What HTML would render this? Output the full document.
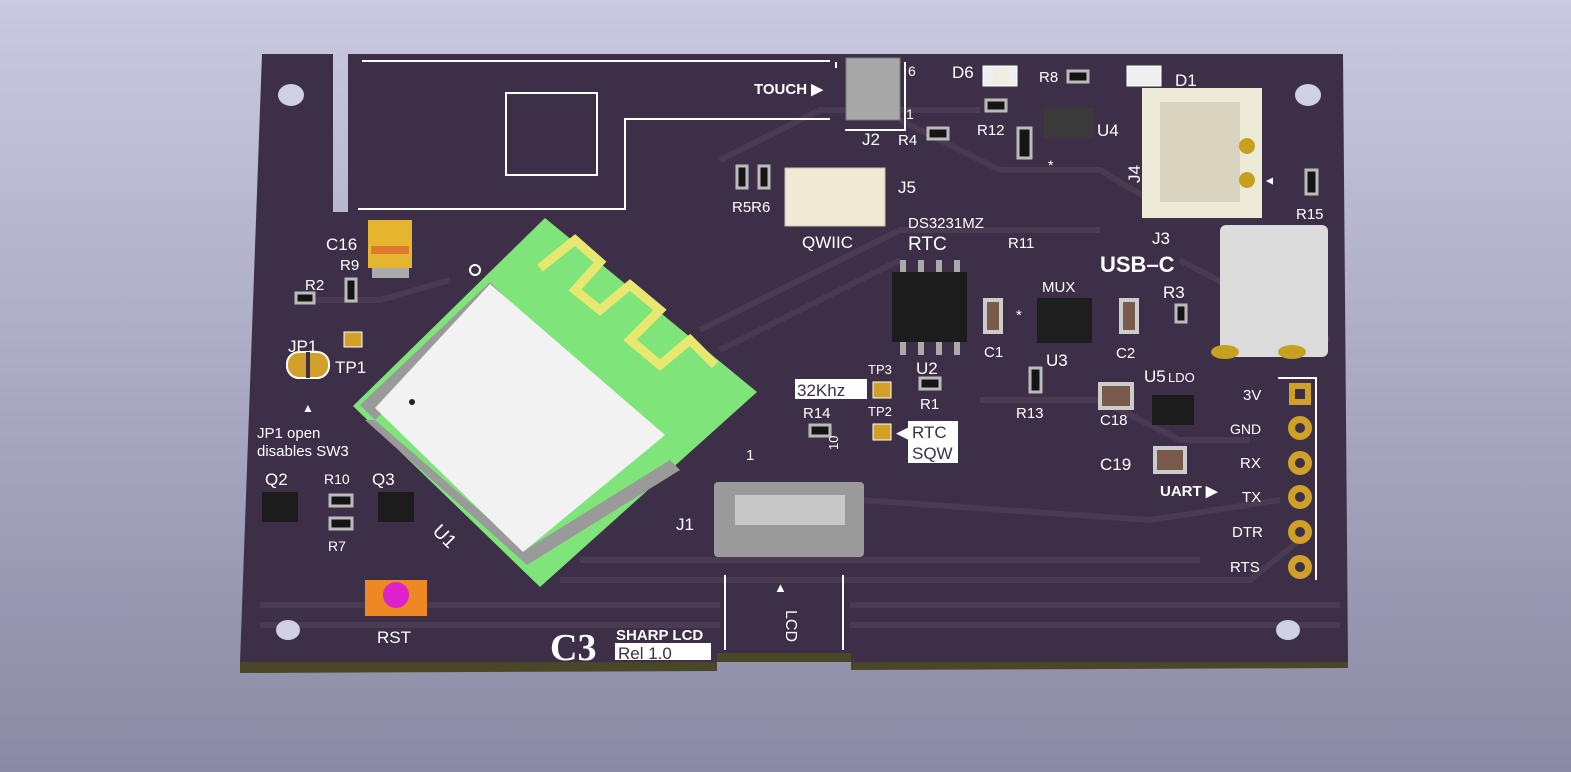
<!DOCTYPE html>
<html><head><meta charset="utf-8"><style>
html,body{margin:0;padding:0;width:1571px;height:772px;overflow:hidden}
svg{display:block}
text{font-family:"Liberation Sans",sans-serif;fill:#fff}
</style></head><body>
<svg width="1571" height="772" viewBox="0 0 1571 772" xmlns="http://www.w3.org/2000/svg">
<defs>
<linearGradient id="bg" x1="0" y1="0" x2="0" y2="1">
<stop offset="0" stop-color="#c9c9e0"/><stop offset="1" stop-color="#8a8aa4"/></linearGradient>
</defs>
<rect width="1571" height="772" fill="url(#bg)"/>
<!-- board edge thickness -->
<polygon points="240,662 717,662 717,671 240,673" fill="#4a4628"/>
<polygon points="851,662 1348,662 1348,668 851,670" fill="#4a4628"/>
<polygon points="717,653 851,653 851,662 717,662" fill="#4a4628"/>
<!-- board -->
<path d="M262,54 L333,54 L333,212 L348,212 L348,54 L1343,54 L1348,662 L851,662 L851,653 L717,653 L717,662 L240,662 Z" fill="#3d2f48"/>
<!-- traces -->
<g stroke="#4a3a52" stroke-width="6" fill="none">
<path d="M300,300 L380,300 L450,280"/><path d="M560,580 L1250,580 L1300,540"/>
<path d="M580,560 L1200,560"/><path d="M700,330 L900,230 L1100,230"/>
<path d="M720,350 L900,260"/><path d="M900,120 L1000,170 L1100,170 L1150,200"/>
<path d="M980,400 L1100,400 L1180,440 L1250,440"/><path d="M860,500 L1150,520 L1280,500"/>
<path d="M720,160 L820,110 L980,110"/><path d="M1180,260 L1330,340"/>
<path d="M260,605 L720,605 M850,605 L1340,605"/><path d="M260,625 L720,625 M850,625 L1340,625"/>
</g>
<!-- holes -->
<g fill="#d0d0e4"><ellipse cx="291" cy="95" rx="13" ry="11"/><ellipse cx="1308" cy="95" rx="13" ry="11"/>
<ellipse cx="288" cy="630" rx="12" ry="10"/><ellipse cx="1288" cy="630" rx="12" ry="10"/></g>
<!-- antenna keepout silkscreen -->
<g stroke="#fff" stroke-width="2" fill="none">
<path d="M362,61 L830,61"/><path d="M358,209 L625,209 L625,119 L830,119"/>
<rect x="506" y="93" width="91" height="82"/>
<path d="M836,68 L836,62 M905,62 L905,130 L845,130"/>
<path d="M725,575 L725,650 M843,575 L843,650"/>
<path d="M1278,378 L1316,378 L1316,580"/>
</g>
<!-- ESP module -->
<polygon points="545,218 757,392 540,587 353,406" fill="#7fe57a"/>
<g stroke="#e8e870" stroke-width="9" fill="none"><path d="M540,268 L575,240 L600,262 L575,290 L600,310 L630,285 L660,310 L630,340 L660,365 L690,340 L715,365"/></g>
<g fill="#9a9a9a">
<path d="M360,405 L490,282 L505,297 L375,420 Z"/>
<path d="M375,420 L525,550 L670,460 L680,470 L527,565 L365,420 Z"/>
</g>
<polygon points="490,284 665,435 523,552 375,408" fill="#f2f2f2"/>
<circle cx="412" cy="402" r="3" fill="#222"/>
<text x="440" y="548" font-size="19" transform="rotate(45 455 530)">U1</text>
<circle cx="475" cy="270" r="5" stroke="#fff" stroke-width="2" fill="none"/>
<!-- C16 cap -->
<rect x="368" y="220" width="44" height="48" fill="#e6b52f"/><rect x="371" y="246" width="38" height="8" fill="#e07830"/>
<rect x="372" y="268" width="37" height="10" fill="#aaa"/>
<!-- small resistors -->
<g fill="#151515" stroke="#bbb" stroke-width="3">
<rect x="296" y="293" width="18" height="10"/><rect x="346" y="279" width="10" height="22"/>
<rect x="737" y="166" width="10" height="22"/><rect x="759" y="166" width="10" height="22"/>
<rect x="928" y="128" width="20" height="11"/><rect x="986" y="100" width="20" height="11"/>
<rect x="1068" y="71" width="20" height="11"/><rect x="1018" y="128" width="13" height="30"/>
<rect x="1306" y="170" width="11" height="24"/><rect x="1176" y="305" width="10" height="17"/>
<rect x="920" y="378" width="20" height="11"/><rect x="810" y="425" width="20" height="11"/>
<rect x="1030" y="368" width="11" height="24"/>
<rect x="330" y="495" width="22" height="11"/><rect x="330" y="518" width="22" height="11"/>
</g>
<!-- LEDs -->
<rect x="983" y="66" width="34" height="20" fill="#eee" stroke="#fff"/><rect x="993" y="68" width="16" height="16" fill="#f2ece0"/>
<rect x="1127" y="66" width="34" height="20" fill="#eee" stroke="#fff"/>
<!-- ceramic caps -->
<g fill="#7a5a4a" stroke="#ccc" stroke-width="4">
<rect x="985" y="300" width="16" height="32"/><rect x="1121" y="300" width="16" height="32"/>
<rect x="1100" y="384" width="32" height="24"/><rect x="1155" y="448" width="30" height="24"/>
</g>
<!-- ICs -->
<g fill="#aaa"><rect x="900" y="260" width="6" height="95"/><rect x="918" y="260" width="6" height="95"/><rect x="936" y="260" width="6" height="95"/><rect x="954" y="260" width="6" height="95"/></g>
<rect x="892" y="272" width="75" height="70" fill="#1c1c1c"/>
<rect x="1037" y="298" width="55" height="45" fill="#1e1e1e"/>
<rect x="1044" y="108" width="50" height="30" fill="#3a3a3a"/>
<rect x="1152" y="395" width="42" height="30" fill="#1c1c1c"/>
<rect x="262" y="492" width="36" height="30" fill="#1c1c1c"/><rect x="378" y="492" width="36" height="30" fill="#1c1c1c"/>
<!-- J2 -->
<rect x="846" y="58" width="54" height="62" fill="#a8a8a8" stroke="#777"/>
<!-- J5 -->
<rect x="785" y="168" width="100" height="58" fill="#f0ead4" stroke="#c8c2aa"/>
<!-- J4 -->
<rect x="1142" y="88" width="120" height="130" fill="#eeead8"/>
<rect x="1160" y="102" width="80" height="100" fill="#d8d4c0"/>
<circle cx="1247" cy="146" r="8" fill="#c8a020"/><circle cx="1247" cy="180" r="8" fill="#c8a020"/>
<!-- USB-C -->
<rect x="1220" y="225" width="108" height="132" rx="6" fill="#dcdcdc"/>
<ellipse cx="1225" cy="352" rx="14" ry="7" fill="#c8a020"/><ellipse cx="1292" cy="352" rx="14" ry="7" fill="#c8a020"/>
<!-- FPC J1 -->
<rect x="714" y="482" width="150" height="75" rx="4" fill="#9a9a9a"/><rect x="735" y="495" width="110" height="30" fill="#c8c8c8"/>
<!-- header pads -->
<g fill="#d0a028"><rect x="1289" y="383" width="22" height="22"/>
<circle cx="1300" cy="428" r="12"/><circle cx="1300" cy="463" r="12"/><circle cx="1300" cy="497" r="12"/><circle cx="1300" cy="532" r="12"/><circle cx="1300" cy="567" r="12"/></g>
<g fill="#3d2f48"><rect x="1295" y="389" width="10" height="10"/><circle cx="1300" cy="428" r="5"/><circle cx="1300" cy="463" r="5"/><circle cx="1300" cy="497" r="5"/><circle cx="1300" cy="532" r="5"/><circle cx="1300" cy="567" r="5"/></g>
<!-- JP1, TP -->
<rect x="287" y="352" width="42" height="26" rx="12" fill="#d0a028" stroke="#fff" stroke-width="2"/><rect x="306" y="352" width="4" height="26" fill="#3d2f48"/>
<rect x="344" y="332" width="18" height="15" fill="#d0a028" stroke="#fff"/>
<rect x="873" y="382" width="18" height="16" fill="#d0a028" stroke="#fff"/><rect x="873" y="424" width="18" height="16" fill="#d0a028" stroke="#fff"/>
<!-- RST button -->
<rect x="365" y="580" width="62" height="36" fill="#ee8822"/><circle cx="396" cy="595" r="13" fill="#dd22cc"/>
<!-- labels -->
<g font-size="17">
<text x="326" y="250">C16</text><text x="340" y="270" font-size="15">R9</text><text x="305" y="290" font-size="15">R2</text>
<text x="288" y="352">JP1</text><text x="335" y="373">TP1</text>
<text x="257" y="438" font-size="15">JP1 open</text><text x="257" y="456" font-size="15">disables SW3</text>
<text x="265" y="485">Q2</text><text x="324" y="484" font-size="14">R10</text><text x="372" y="485">Q3</text><text x="328" y="551" font-size="14">R7</text>
<text x="377" y="643">RST</text>
<text x="754" y="94" font-size="15" font-weight="bold">TOUCH ▶</text>
<text x="908" y="76" font-size="14">6</text><text x="906" y="119" font-size="14">1</text>
<text x="862" y="145">J2</text><text x="898" y="145" font-size="15">R4</text>
<text x="952" y="78">D6</text><text x="1039" y="82" font-size="15">R8</text><text x="1175" y="86">D1</text>
<text x="977" y="135" font-size="15">R12</text><text x="1097" y="136">U4</text><text x="1048" y="170" font-size="14">*</text>
<text x="732" y="212" font-size="15">R5R6</text><text x="898" y="193">J5</text>
<text x="802" y="248">QWIIC</text>
<text x="908" y="228" font-size="15">DS3231MZ</text><text x="908" y="250" font-size="19">RTC</text><text x="1008" y="248" font-size="15">R11</text>
<text x="1042" y="292" font-size="15">MUX</text><text x="1016" y="320" font-size="15">*</text>
<text x="984" y="357" font-size="15">C1</text><text x="1046" y="366">U3</text><text x="1116" y="358" font-size="15">C2</text>
<text x="1152" y="244">J3</text><text x="1100" y="272" font-size="22" font-weight="bold">USB–C</text>
<text x="1163" y="298">R3</text><text x="1296" y="219" font-size="15">R15</text>
<text x="1125" y="182" transform="rotate(-90 1133 175)">J4</text>
<text x="916" y="374">U2</text><text x="868" y="374" font-size="13">TP3</text>
<rect x="795" y="379" width="72" height="20" fill="#fff"/><text x="797" y="396" style="fill:#3d2f48">32Khz</text>
<text x="920" y="409" font-size="15">R1</text><text x="868" y="416" font-size="13">TP2</text>
<text x="803" y="418" font-size="15">R14</text><text x="830" y="458" font-size="13" transform="rotate(-90 830 450)">10</text>
<rect x="908" y="421" width="50" height="42" fill="#fff"/><text x="896" y="438" style="fill:#fff">◀</text>
<text x="912" y="438" style="fill:#3d2f48">RTC</text><text x="912" y="459" style="fill:#3d2f48">SQW</text>
<text x="1016" y="418" font-size="15">R13</text><text x="1100" y="425" font-size="15">C18</text>
<text x="1144" y="382">U5</text><text x="1168" y="382" font-size="13">LDO</text>
<text x="1100" y="470">C19</text><text x="1160" y="496" font-size="15" font-weight="bold">UART ▶</text>
<text x="1243" y="400" font-size="15">3V</text><text x="1230" y="434" font-size="14">GND</text><text x="1240" y="468" font-size="15">RX</text>
<text x="1242" y="502" font-size="15">TX</text><text x="1232" y="537" font-size="15">DTR</text><text x="1230" y="572" font-size="15">RTS</text>
<text x="676" y="530">J1</text><text x="746" y="460" font-size="15">1</text>
<text x="774" y="592" font-size="13">▲</text><text x="770" y="606" font-size="16" transform="rotate(90 776 616)">LCD</text>
<text x="550" y="660" style="font-family:'Liberation Serif',serif;font-size:38px;font-weight:bold">C3</text>
<text x="616" y="640" font-size="15" font-weight="bold">SHARP LCD</text>
<rect x="615" y="643" width="96" height="17" fill="#fff"/><text x="618" y="659" font-size="17" style="fill:#3d2f48">Rel  1.0</text>
<text x="302" y="412" font-size="12">▲</text><text x="1264" y="188" font-size="12" transform="rotate(-90 1268 183)">▲</text>
</g>
</svg>
</body></html>
